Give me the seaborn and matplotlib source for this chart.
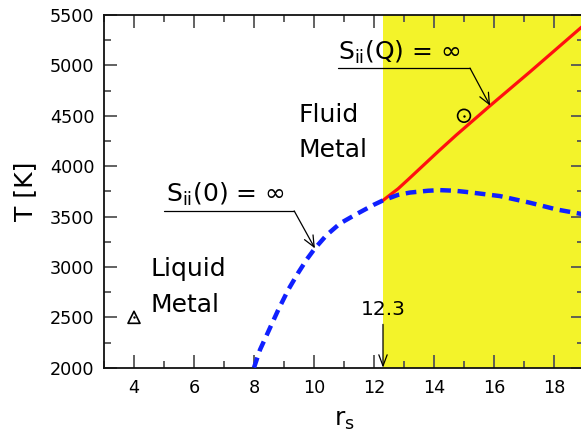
import matplotlib
matplotlib.use("Agg")
import matplotlib.pyplot as plt
import seaborn as sns
import pandas as pd
import numpy as np

# ---- data ----
spinodal0_rs = [8.0, 8.2, 8.53, 8.81, 9.14, 9.48, 9.76, 10.03, 10.42, 10.87, 11.42, 11.98, 12.3,
                12.8, 13.2, 13.8, 14.2, 14.7, 15.2, 16.2, 17.2, 18.09, 18.87, 19.0]
spinodal0_T = [2000, 2178, 2393, 2575, 2773, 2945, 3075, 3184, 3316, 3432, 3525, 3615, 3660,
               3715, 3738, 3756, 3762, 3756, 3740, 3703, 3637, 3570, 3528, 3520]
spinodalQ_rs = [12.3, 12.47, 12.8, 13.13, 13.58, 14.13, 14.74, 15.87, 17.2, 18.87, 19.0]
spinodalQ_T = [3660, 3700, 3775, 3865, 3990, 4143, 4308, 4600, 4936, 5367, 5400]
liquid_pt_rs = [4.0]
liquid_pt_T = [2500]
fluid_pt_rs = [15.0]
fluid_pt_T = [4500]
rs_boundary = 12.3
x_ticks = [4, 6, 8, 10, 12, 14, 16, 18]
y_ticks = [2000, 2500, 3000, 3500, 4000, 4500, 5000, 5500]

sns.set_style("ticks")
plt.rcParams['font.family'] = ['DejaVu Sans']
plt.rcParams['mathtext.fontset'] = 'dejavusans'
plt.rcParams['text.color'] = 'black'
plt.rcParams['axes.labelcolor'] = 'black'

fig = plt.figure(figsize=(5.81, 4.43), dpi=100)
ax = fig.add_axes([104/581, 1-367.7/443, (584-104)/581, (367.7-15)/443])

ax.axvspan(rs_boundary, 19.5, color='#f3f32a', zorder=0, lw=0)

df0 = pd.DataFrame({'rs': spinodal0_rs, 'T': spinodal0_T})
dfQ = pd.DataFrame({'rs': spinodalQ_rs, 'T': spinodalQ_T})
sns.lineplot(data=dfQ, x='rs', y='T', ax=ax, color='#ff1010', lw=2.3, zorder=3, sort=False)
sns.lineplot(data=df0, x='rs', y='T', ax=ax, color='#1020ff', lw=3.2, zorder=4, sort=False)
ax.lines[-1].set_dashes([2.4, 1.5])

# markers
sns.scatterplot(x=liquid_pt_rs, y=liquid_pt_T, ax=ax, marker='^', s=75,
                facecolor='none', edgecolor='black', linewidth=1.2, zorder=5)
sns.scatterplot(x=fluid_pt_rs, y=fluid_pt_T, ax=ax, marker='o', s=85,
                facecolor='none', edgecolor='black', linewidth=1.2, zorder=5)
sns.scatterplot(x=liquid_pt_rs + fluid_pt_rs, y=liquid_pt_T + fluid_pt_T, ax=ax,
                marker='o', s=3, color='black', linewidth=0, zorder=6)

ax.set_xlim(3, 19)
ax.set_ylim(2000, 5500)
ax.set_xticks(x_ticks)
ax.set_yticks(y_ticks)
ax.set_xticks(np.arange(3, 20, 1), minor=True)
ax.set_yticks(np.arange(2000, 5501, 250), minor=True)
ax.tick_params(which='both', direction='in', top=True, right=True, labelsize=12.7,
               color='#555555', width=1.3, labelcolor='black')
ax.tick_params(which='major', length=9.5)
ax.tick_params(which='minor', length=5)
ax.tick_params(axis='x', which='major', pad=8)
ax.tick_params(axis='y', which='major', pad=7)
for s in ax.spines.values():
    s.set_linewidth(1.3)
    s.set_color('#111111')
ax.set_xlabel(r'r$_\mathrm{s}$', fontsize=18, labelpad=8)
ax.set_ylabel('T [K]', fontsize=18, labelpad=9)

txt = dict(fontsize=18, color='black', va='center', ha='left', zorder=7)
ax.text(9.48, 4507, 'Fluid', **txt)
ax.text(9.48, 4160, 'Metal', **txt)
ax.text(4.54, 2981, 'Liquid', **txt)
ax.text(4.54, 2624, 'Metal', **txt)

ax.text(5.05, 3715, r'S$_\mathrm{ii}$(0) = ∞', **txt)
ax.plot([5.0, 9.34], [3556, 3556], color='black', lw=0.9, zorder=7)
ax.annotate('', xy=(10.03, 3184), xytext=(9.34, 3556),
            arrowprops=dict(arrowstyle='->,head_length=0.8,head_width=0.35', lw=0.9,
                            color='black', shrinkA=0, shrinkB=0), zorder=7)

ax.text(10.79, 5130, r'S$_\mathrm{ii}$(Q) = ∞', **txt)
ax.plot([10.79, 15.2], [4973, 4973], color='black', lw=0.9, zorder=7)
ax.annotate('', xy=(15.87, 4600), xytext=(15.2, 4973),
            arrowprops=dict(arrowstyle='->,head_length=0.8,head_width=0.35', lw=0.9,
                            color='black', shrinkA=0, shrinkB=0), zorder=7)

ax.text(rs_boundary, 2580, '12.3', fontsize=14.5, ha='center', va='center',
        color='black', zorder=7)
ax.annotate('', xy=(rs_boundary, 2000), xytext=(rs_boundary, 2430),
            arrowprops=dict(arrowstyle='->,head_length=0.8,head_width=0.3', lw=0.9,
                            color='black', shrinkA=0, shrinkB=0), zorder=7)

fig.savefig('out.png', dpi=100)
